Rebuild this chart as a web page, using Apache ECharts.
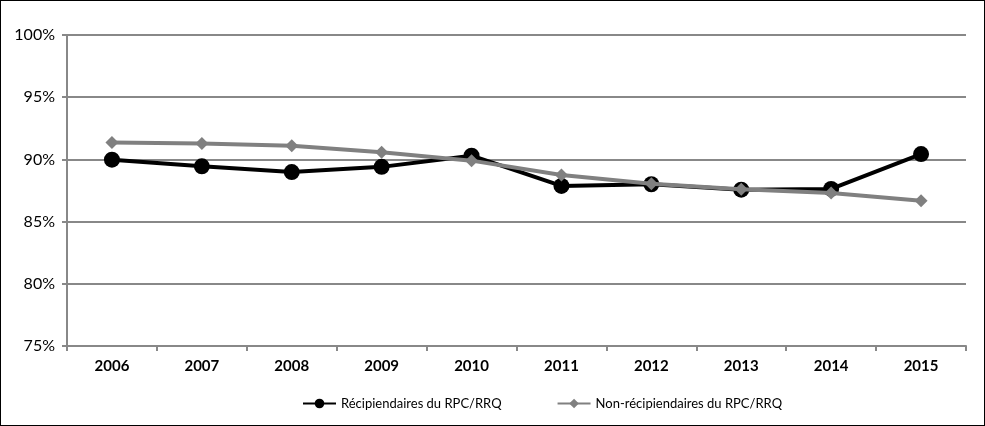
<!DOCTYPE html>
<html><head><meta charset="utf-8">
<script src="https://cdn.jsdelivr.net/npm/echarts@6/dist/echarts.min.js"></script>
<style>html,body{margin:0;padding:0;background:#fff}#c{width:983px;height:424px;border:1px solid #000}</style>
</head><body><div id="c"></div>
<script>
const years = ['2006','2007','2008','2009','2010','2011','2012','2013','2014','2015'];
const recipients = [89.98, 89.44, 88.98, 89.40, 90.30, 87.87, 88.00, 87.57, 87.63, 90.43];
const nonRecipients = [91.36, 91.27, 91.10, 90.58, 89.90, 88.75, 88.05, 87.60, 87.30, 86.68];
const seriesNames = ['Récipiendaires du RPC/RRQ', 'Non-récipiendaires du RPC/RRQ'];
const chart = echarts.init(document.getElementById('c'));
const font = 'Lato, "Open Sans", sans-serif';
chart.setOption({
  animation: false,
  textStyle: {fontFamily: font},
  grid: {left: 66, right: 18, top: 34, bottom: 79},
  legend: {
    bottom: 10, left: 296, itemGap: 55, itemWidth: 33, itemHeight: 12,
    textStyle: {fontSize: 13, color: '#000', fontFamily: font},
    data: seriesNames
  },
  xAxis: {
    type: 'category', data: years, boundaryGap: true,
    axisLine: {lineStyle: {color: '#888', width: 2}},
    axisTick: {show: true, length: 5, lineStyle: {color: '#888', width: 2}},
    axisLabel: {fontSize: 15, fontWeight: 'bold', color: '#000', margin: 13}
  },
  yAxis: {
    type: 'value', min: 75, max: 100, interval: 5,
    axisLine: {show: true, lineStyle: {color: '#888', width: 2}},
    axisTick: {show: true, length: 5, lineStyle: {color: '#888', width: 2}},
    splitLine: {lineStyle: {color: '#888', width: 2}},
    axisLabel: {fontSize: 16, color: '#000', margin: 12, formatter: v => v + '%'}
  },
  series: [
    {name: seriesNames[1], type: 'line', data: nonRecipients, symbol: 'diamond', symbolSize: 13,
     lineStyle: {color: '#808080', width: 4}, itemStyle: {color: '#808080'}, z: 2},
    {name: seriesNames[0], type: 'line', data: recipients, symbol: 'circle', symbolSize: 16,
     lineStyle: {color: '#000', width: 4}, itemStyle: {color: '#000'}, z: 1}
  ]
});
</script></body></html>
